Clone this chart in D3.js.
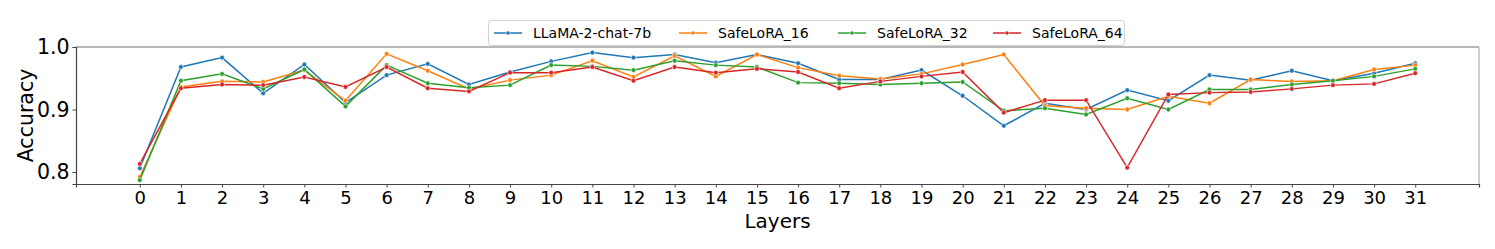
<!DOCTYPE html>
<html lang="en">
<head>
<meta charset="UTF-8">
<title>Accuracy by layer</title>
<script src="https://cdn.jsdelivr.net/npm/d3@7"></script>
<style>
    body{ margin:0; background:#fff; }
    text{ font-family: "DejaVu Sans", sans-serif; fill:#000; }
</style>
</head>
<body>
<div id="chart"></div>
<script>
    // values
    const layers = d3.range(0, 32);
    const seriesNames = ["LLaMA-2-chat-7b", "SafeLoRA_16", "SafeLoRA_32", "SafeLoRA_64"];
    const colors = ["#1f77b4", "#ff7f0e", "#2ca02c", "#d62728"];

    const llama = [0.806,0.968,0.983,0.926,0.972,0.911,0.955,0.973,0.940,0.960,0.977,0.991,0.983,0.988,0.975,0.988,
                   0.974,0.948,0.948,0.963,0.922,0.874,0.910,0.900,0.931,0.914,0.955,0.947,0.962,0.946,0.958,0.974];
    const safe16 = [0.792,0.936,0.945,0.944,0.963,0.914,0.989,0.962,0.933,0.947,0.955,0.978,0.952,0.986,0.953,0.988,
                   0.967,0.954,0.949,0.957,0.972,0.988,0.906,0.902,0.900,0.921,0.910,0.948,0.945,0.946,0.964,0.971];
    const safe32 = [0.787,0.946,0.957,0.933,0.964,0.905,0.971,0.942,0.935,0.939,0.971,0.969,0.963,0.978,0.971,0.968,
                   0.943,0.942,0.940,0.942,0.944,0.898,0.902,0.892,0.918,0.900,0.932,0.932,0.940,0.946,0.953,0.965];
    const safe64 = [0.813,0.934,0.940,0.939,0.952,0.936,0.968,0.934,0.929,0.959,0.959,0.968,0.946,0.968,0.959,0.965,
                   0.960,0.934,0.945,0.953,0.960,0.895,0.915,0.915,0.807,0.924,0.927,0.928,0.933,0.939,0.941,0.958];
    const yTicks = [0.8, 0.9, 1.0];

    const allSeries = [llama, safe16, safe32, safe64];

    const width = 1495, height = 249;
    const margin = {top:47, left:76, right:16, bottom:65};

    const svg = d3.select("#chart").append("svg")
        .attr("width", width).attr("height", height);

    const x = d3.scaleLinear().domain([-1.55, 32.55]).range([margin.left, width - margin.right]);
    const y = d3.scaleLinear().domain([0.7808, 1.0]).range([height - margin.bottom, margin.top]);

    // frame (top / right lighter, like the original)
    svg.append("line").attr("x1", x.range()[0]).attr("x2", x.range()[1])
        .attr("y1", margin.top).attr("y2", margin.top).attr("stroke", "#a0a0a0").attr("stroke-width", 1.5);
    svg.append("line").attr("x1", x.range()[1]).attr("x2", x.range()[1])
        .attr("y1", margin.top).attr("y2", height - margin.bottom).attr("stroke", "#a0a0a0").attr("stroke-width", 1);

    // axes
    const xAxis = svg.append("g")
        .attr("transform", `translate(0,${height - margin.bottom})`)
        .call(d3.axisBottom(x).tickValues(layers).tickFormat(d3.format("d")).tickSizeOuter(0).tickSize(3.5).tickPadding(4));
    xAxis.selectAll("text").attr("font-size", "18px").attr("fill", "#000");

    const yAxis = svg.append("g")
        .attr("transform", `translate(${margin.left},0)`)
        .call(d3.axisLeft(y).tickValues(yTicks).tickFormat(d3.format(".1f")).tickSizeOuter(0).tickSize(3.5).tickPadding(3));
    yAxis.selectAll("text").attr("font-size", "20.5px").attr("fill", "#000");

    [xAxis, yAxis].forEach(a => {
        a.select(".domain").attr("stroke", "#444").attr("stroke-width", 1.2);
        a.selectAll(".tick line").attr("stroke", "#444");
        a.selectAll("text").attr("font-family", "DejaVu Sans, sans-serif");
    });

    // axis titles
    svg.append("text")
        .attr("x", (x.range()[0] + x.range()[1]) / 2).attr("y", 228)
        .attr("text-anchor", "middle").attr("font-size", "20px")
        .text("Layers");
    svg.append("text")
        .attr("transform", `translate(33,${(margin.top + height - margin.bottom) / 2}) rotate(-90)`)
        .attr("text-anchor", "middle").attr("font-size", "20.5px")
        .text("Accuracy");

    // lines + markers
    const line = d3.line().x((d, i) => x(layers[i])).y(d => y(d));
    allSeries.forEach((s, k) => {
        const g = svg.append("g");
        g.append("path").datum(s)
            .attr("d", line).attr("fill", "none")
            .attr("stroke", colors[k]).attr("stroke-width", 1.5);
        g.selectAll("circle").data(s).join("circle")
            .attr("cx", (d, i) => x(layers[i])).attr("cy", d => y(d))
            .attr("r", 2.4).attr("fill", colors[k])
            .attr("stroke", "#fff").attr("stroke-width", 0.6);
    });

    // legend
    const legend = svg.append("g");
    legend.append("rect")
        .attr("x", 488.5).attr("y", 20.5).attr("width", 636).attr("height", 25)
        .attr("rx", 3).attr("fill", "#fff").attr("fill-opacity", 0.8)
        .attr("stroke", "#d0d0d0");
    const itemX = [494, 679, 838, 993];
    seriesNames.forEach((name, k) => {
        const g = legend.append("g").attr("transform", `translate(${itemX[k]},33)`);
        g.append("line").attr("x1", 0).attr("x2", 28).attr("y1", 0).attr("y2", 0)
            .attr("stroke", colors[k]).attr("stroke-width", 1.5);
        g.append("circle").attr("cx", 14).attr("cy", 0).attr("r", 2)
            .attr("fill", colors[k]).attr("stroke", "#fff").attr("stroke-width", 0.5);
        g.append("text").attr("x", 39).attr("y", 5).attr("font-size", "14px").text(name);
    });
</script>
</body>
</html>
